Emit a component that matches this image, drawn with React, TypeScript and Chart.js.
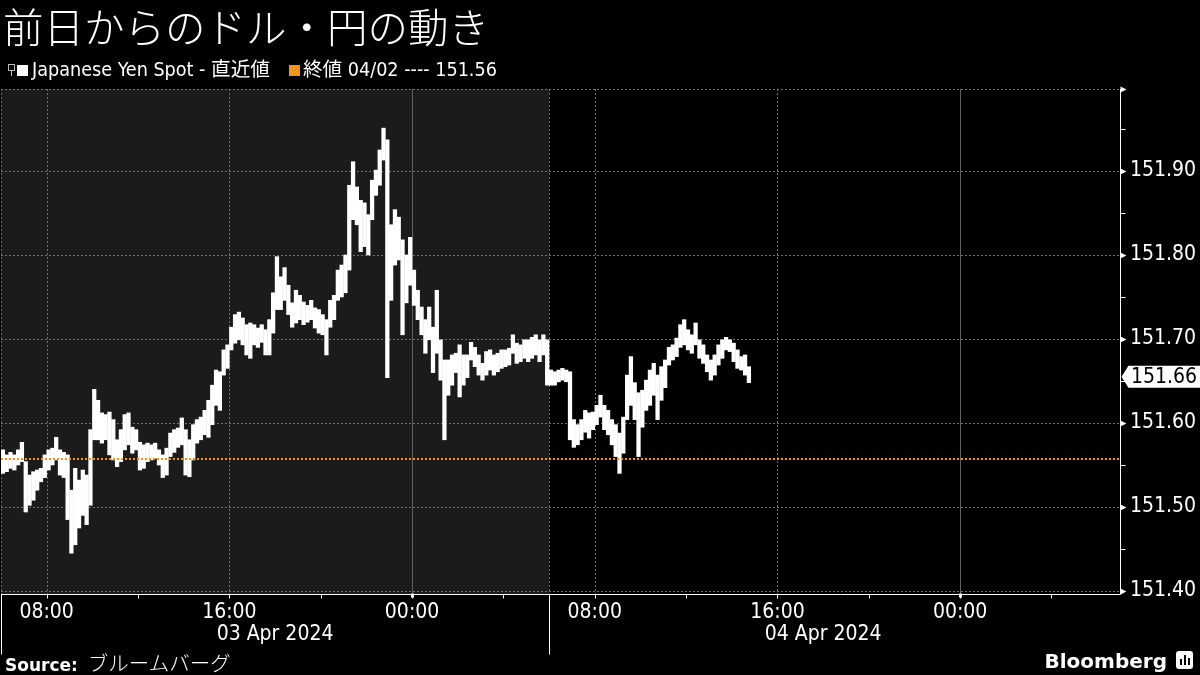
import React, { useEffect, useRef } from "react";
import { Chart, registerables } from "chart.js";

Chart.register(...registerables);

// ---------- texts ----------
const TITLE = "前日からのドル・円の動き";
const SERIES_LABEL = "Japanese Yen Spot - 直近値";
const PREV_CLOSE_LABEL = "終値 04/02 ---- 151.56";
const SOURCE_PREFIX = "Source:";
const SOURCE_NAME = "ブルームバーグ";
const BRAND = "Bloomberg";

// ---------- data: 10-minute high/low bars from 06:00 03 Apr 2024 ----------
const BAR_MINUTES = 10;
const HIGHS = [
  151.568, 151.562, 151.565, 151.562, 151.568, 151.577,
  151.554, 151.538, 151.542, 151.544, 151.546, 151.562,
  151.568, 151.570, 151.583, 151.568, 151.565, 151.562,
  151.520, 151.546, 151.532, 151.544, 151.538, 151.592,
  151.640, 151.627, 151.612, 151.610, 151.613, 151.604,
  151.580, 151.592, 151.610, 151.612, 151.595, 151.592,
  151.577, 151.574, 151.576, 151.574, 151.576, 151.568,
  151.562, 151.570, 151.588, 151.592, 151.594, 151.606,
  151.592, 151.580, 151.598, 151.604, 151.607, 151.615,
  151.627, 151.645, 151.663, 151.661, 151.687, 151.693,
  151.714, 151.729, 151.732, 151.725, 151.717, 151.719,
  151.717, 151.713, 151.717, 151.711, 151.723, 151.755,
  151.798, 151.774, 151.785, 151.764, 151.743, 151.758,
  151.752, 151.744, 151.740, 151.746, 151.737, 151.735,
  151.729, 151.723, 151.746, 151.752, 151.782, 151.788,
  151.800, 151.883, 151.911, 151.881, 151.865, 151.862,
  151.848, 151.889, 151.901, 151.925, 151.951, 151.937,
  151.836, 151.854, 151.845, 151.818, 151.800, 151.821,
  151.782, 151.758, 151.738, 151.723, 151.738, 151.714,
  151.758, 151.699, 151.675, 151.675, 151.681, 151.683,
  151.693, 151.681, 151.681, 151.696, 151.690, 151.681,
  151.671, 151.685, 151.687, 151.681, 151.683, 151.687,
  151.687, 151.689, 151.705, 151.695, 151.693, 151.699,
  151.699, 151.702, 151.705, 151.699, 151.705, 151.699,
  151.663, 151.661, 151.663, 151.665, 151.663, 151.661,
  151.604, 151.598, 151.604, 151.615, 151.612, 151.613,
  151.621, 151.633, 151.621, 151.615, 151.604, 151.598,
  151.588, 151.607, 151.657, 151.679, 151.648, 151.636,
  151.639, 151.651, 151.663, 151.671, 151.657, 151.667,
  151.675, 151.690, 151.693, 151.701, 151.717, 151.723,
  151.711, 151.705, 151.719, 151.699, 151.693, 151.681,
  151.675, 151.681, 151.693, 151.699, 151.702, 151.699,
  151.695, 151.687, 151.679, 151.681, 151.667,
];
const LOWS = [
  151.540, 151.542, 151.546, 151.544, 151.550, 151.554,
  151.494, 151.502, 151.508, 151.520, 151.530, 151.535,
  151.544, 151.550, 151.556, 151.538, 151.535, 151.485,
  151.445, 151.455, 151.475, 151.490, 151.479, 151.502,
  151.580, 151.580, 151.576, 151.580, 151.562, 151.556,
  151.548, 151.554, 151.568, 151.574, 151.564, 151.568,
  151.544, 151.546, 151.554, 151.556, 151.558, 151.550,
  151.535, 151.538, 151.560, 151.565, 151.571, 151.574,
  151.538, 151.536, 151.556, 151.576, 151.580, 151.586,
  151.583, 151.598, 151.621, 151.615, 151.657, 151.665,
  151.687, 151.695, 151.699, 151.693, 151.681, 151.677,
  151.693, 151.690, 151.696, 151.681, 151.681, 151.707,
  151.735, 151.735, 151.746, 151.729, 151.714, 151.719,
  151.723, 151.717, 151.720, 151.723, 151.713, 151.707,
  151.705, 151.681, 151.714, 151.723, 151.746, 151.750,
  151.755, 151.782, 151.842, 151.836, 151.804, 151.810,
  151.800, 151.842, 151.871, 151.883, 151.913, 151.654,
  151.746, 151.788, 151.794, 151.705, 151.743, 151.764,
  151.740, 151.723, 151.705, 151.683, 151.699, 151.660,
  151.683, 151.651, 151.580, 151.633, 151.645, 151.660,
  151.631, 151.645, 151.654, 151.675, 151.667, 151.657,
  151.651, 151.657, 151.663, 151.657, 151.661, 151.665,
  151.667, 151.669, 151.683, 151.671, 151.673, 151.677,
  151.673, 151.677, 151.681, 151.673, 151.681, 151.645,
  151.645, 151.645, 151.649, 151.651, 151.649, 151.580,
  151.571, 151.574, 151.580, 151.589, 151.582, 151.592,
  151.598, 151.607, 151.592, 151.586, 151.574, 151.560,
  151.540, 151.564, 151.604, 151.621, 151.604, 151.560,
  151.595, 151.615, 151.621, 151.633, 151.604, 151.627,
  151.642, 151.669, 151.675, 151.679, 151.690, 151.693,
  151.687, 151.683, 151.693, 151.677, 151.671, 151.661,
  151.651, 151.657, 151.669, 151.677, 151.687, 151.685,
  151.673, 151.665, 151.663, 151.657, 151.648,
];
const PREV_CLOSE = 151.557;
const LAST_PRICE = 151.655;
const LAST_LABEL = "151.66";

// ---------- axes (x in minutes after 06:00 03 Apr 2024) ----------
const X_MIN = 0;
const X_MAX = 2940;
const Y_MIN = 151.3964;
const Y_MAX = 151.9976;
const Y_TICKS = [151.4, 151.5, 151.6, 151.7, 151.8, 151.9];
const Y_MINOR_TICKS = [151.45, 151.55, 151.65, 151.75, 151.85, 151.95];
const X_LABEL_TICKS = [120, 600, 1080, 1560, 2040, 2520];
const X_LABELS = ["08:00", "16:00", "00:00", "08:00", "16:00", "00:00"];
const X_MINOR_TICKS = [360, 840, 1320, 1800, 2280, 2760];
const DAY_BOUNDS = [1080, 2520];
const SESSION_BOUNDS = [0, 1440];
const SHADE_RANGE = [0, 1440];
const DATE_LABELS = ["03 Apr 2024", "04 Apr 2024"];
const DATE_LABEL_TIMES = [720, 2160];

const AXIS_FONT = '"DejaVu Sans Condensed", "DejaVu Sans", sans-serif';
const CJK_FONT = '"Noto Sans CJK JP", "Noto Sans", sans-serif';
const ORANGE = "#f0961e";

const decor = {
  id: "decor",
  beforeDatasetsDraw(chart: any) {
    const { ctx, chartArea: a, scales } = chart;
    const xs = scales.x;
    const ys = scales.y;
    ctx.save();
    const s0 = xs.getPixelForValue(SHADE_RANGE[0]);
    const s1 = xs.getPixelForValue(SHADE_RANGE[1]);
    ctx.fillStyle = "#1b1b1b";
    ctx.fillRect(s0, a.top, s1 - s0, a.bottom - a.top);

    ctx.lineWidth = 1;
    ctx.strokeStyle = "#707070";
    ctx.setLineDash([2, 2]);
    const hl = [...Y_TICKS, Y_MAX];
    for (const v of hl) {
      const y = Math.round(ys.getPixelForValue(v)) + 0.5;
      ctx.beginPath();
      ctx.moveTo(a.left, y);
      ctx.lineTo(a.right, y);
      ctx.stroke();
    }
    const vd = [...X_LABEL_TICKS.filter((t) => !DAY_BOUNDS.includes(t)), ...SESSION_BOUNDS];
    for (const t of vd) {
      const x = Math.round(xs.getPixelForValue(t)) + 0.5;
      ctx.beginPath();
      ctx.moveTo(x, a.top);
      ctx.lineTo(x, a.bottom);
      ctx.stroke();
    }
    ctx.setLineDash([]);
    ctx.strokeStyle = "#626262";
    for (const t of DAY_BOUNDS) {
      const x = Math.round(xs.getPixelForValue(t)) + 0.5;
      ctx.beginPath();
      ctx.moveTo(x, a.top);
      ctx.lineTo(x, a.bottom);
      ctx.stroke();
    }
    ctx.restore();
  },
  afterDraw(chart: any) {
    const { ctx, chartArea: a, scales } = chart;
    const xs = scales.x;
    const ys = scales.y;
    ctx.save();
    ctx.strokeStyle = "#ffffff";
    ctx.fillStyle = "#ffffff";
    ctx.lineWidth = 1;
    const r = Math.round(a.right) + 0.5;
    const b = Math.round(a.bottom) + 0.5;
    ctx.beginPath();
    ctx.moveTo(r, a.top);
    ctx.lineTo(r, b);
    ctx.moveTo(a.left, b);
    ctx.lineTo(r, b);
    ctx.stroke();
    const tri = (y: number) => {
      ctx.beginPath();
      ctx.moveTo(r, y - 3);
      ctx.lineTo(r + 6, y);
      ctx.lineTo(r, y + 3);
      ctx.closePath();
      ctx.fill();
    };
    for (const v of Y_TICKS) tri(Math.round(ys.getPixelForValue(v)) + 0.5);
    tri(Math.round(a.top) + 0.5);
    for (const v of Y_MINOR_TICKS) {
      const y = Math.round(ys.getPixelForValue(v)) + 0.5;
      ctx.beginPath();
      ctx.moveTo(r, y);
      ctx.lineTo(r + 5, y);
      ctx.stroke();
    }
    for (const t of [...X_LABEL_TICKS, ...X_MINOR_TICKS]) {
      const x = Math.round(xs.getPixelForValue(t)) + 0.5;
      ctx.beginPath();
      ctx.moveTo(x, b);
      ctx.lineTo(x, b + 4);
      ctx.stroke();
    }
    for (const t of DAY_BOUNDS) {
      const x = Math.round(xs.getPixelForValue(t));
      ctx.fillRect(x - 1, b - 1, 3, 4);
    }
    for (const t of SESSION_BOUNDS) {
      const x = Math.round(xs.getPixelForValue(t)) + 0.5;
      ctx.beginPath();
      ctx.moveTo(x, b);
      ctx.lineTo(x, b + 60);
      ctx.stroke();
    }
    ctx.font = `21px ${AXIS_FONT}`;
    ctx.textAlign = "center";
    ctx.textBaseline = "middle";
    DATE_LABELS.forEach((lab, i) => {
      ctx.fillText(lab, xs.getPixelForValue(DATE_LABEL_TIMES[i]), 635);
    });
    const ly = ys.getPixelForValue(LAST_PRICE);
    ctx.beginPath();
    ctx.moveTo(r + 1, ly);
    ctx.lineTo(r + 8, ly - 11);
    ctx.lineTo(1200, ly - 11);
    ctx.lineTo(1200, ly + 11);
    ctx.lineTo(r + 8, ly + 11);
    ctx.closePath();
    ctx.fill();
    ctx.fillStyle = "#000000";
    ctx.textAlign = "left";
    ctx.fillText(LAST_LABEL, 1131, ly + 1);
    ctx.restore();
  },
};

export default function App() {
  const canvasRef = useRef<HTMLCanvasElement | null>(null);

  useEffect(() => {
    const canvas = canvasRef.current;
    if (!canvas) return;
    const bars = HIGHS.map((h, i) => ({ x: i * BAR_MINUTES + BAR_MINUTES / 2, y: [LOWS[i], h] }));
    const chart = new Chart(canvas, {
      type: "bar",
      data: {
        datasets: [
          {
            type: "line",
            label: PREV_CLOSE_LABEL,
            data: [
              { x: X_MIN, y: PREV_CLOSE },
              { x: X_MAX, y: PREV_CLOSE },
            ],
            borderColor: ORANGE,
            borderWidth: 2,
            borderDash: [2, 2],
            pointRadius: 0,
            order: 0,
          } as any,
          {
            type: "bar",
            label: SERIES_LABEL,
            data: bars as any,
            backgroundColor: "#ffffff",
            borderWidth: 0,
            barThickness: 3.6,
            grouped: false,
            order: 1,
          } as any,
        ],
      },
      options: {
        responsive: false,
        animation: false,
        devicePixelRatio: 1,
        layout: { padding: { top: 89, left: 1, right: 0, bottom: 0 } },
        plugins: { legend: { display: false }, tooltip: { enabled: false } },
        scales: {
          x: {
            type: "linear",
            min: X_MIN,
            max: X_MAX,
            offset: false,
            grid: { display: false, drawTicks: false, offset: false },
            border: { display: false },
            afterBuildTicks: (s: any) => {
              s.ticks = X_LABEL_TICKS.map((v) => ({ value: v }));
            },
            afterFit: (s: any) => {
              s.height = 81;
            },
            ticks: {
              color: "#ffffff",
              font: { size: 21, family: AXIS_FONT },
              padding: 6,
              maxRotation: 0,
              autoSkip: false,
              callback: (v: any) => {
                const k = X_LABEL_TICKS.indexOf(Number(v));
                return k >= 0 ? X_LABELS[k] : "";
              },
            },
          },
          y: {
            type: "linear",
            position: "right",
            min: Y_MIN,
            max: Y_MAX,
            grid: { display: false, drawTicks: false },
            border: { display: false },
            afterBuildTicks: (s: any) => {
              s.ticks = Y_TICKS.map((v) => ({ value: v }));
            },
            afterFit: (s: any) => {
              s.width = 80;
            },
            ticks: {
              color: "#ffffff",
              font: { size: 21, family: AXIS_FONT },
              padding: 10,
              callback: (v: any) => Number(v).toFixed(2),
            },
          },
        },
      },
      plugins: [decor],
    });
    return () => chart.destroy();
  }, []);

  const legendText = {
    position: "absolute" as const,
    top: 59,
    fontFamily: `${AXIS_FONT}, ${CJK_FONT}`,
    fontSize: 19.6,
    lineHeight: "22px",
    whiteSpace: "nowrap" as const,
  };

  return (
    <div
      style={{
        position: "fixed",
        left: 0,
        top: 0,
        width: 1200,
        height: 675,
        background: "#000",
        overflow: "hidden",
        color: "#fff",
      }}
    >
      <canvas
        ref={canvasRef}
        width={1200}
        height={675}
        style={{ position: "absolute", left: 0, top: 0, width: 1200, height: 675 }}
      />
      <div
        style={{
          position: "absolute",
          left: 3,
          top: 0,
          fontFamily: CJK_FONT,
          fontSize: 40.5,
          fontWeight: 300,
          lineHeight: "52px",
          whiteSpace: "nowrap",
        }}
      >
        {TITLE}
      </div>
      <div style={{ position: "absolute", left: 8, top: 64, width: 5, height: 5, border: "1px solid #bbb" }} />
      <div style={{ position: "absolute", left: 11, top: 70, width: 1, height: 6, background: "#bbb" }} />
      <div style={{ position: "absolute", left: 17, top: 65, width: 11, height: 11, background: "#fff" }} />
      <div style={{ ...legendText, left: 32 }}>{SERIES_LABEL}</div>
      <div style={{ position: "absolute", left: 289, top: 65, width: 11, height: 11, background: ORANGE }} />
      <div style={{ ...legendText, left: 303 }}>{PREV_CLOSE_LABEL}</div>
      <div
        style={{
          position: "absolute",
          left: 5,
          top: 650,
          lineHeight: "24px",
          whiteSpace: "nowrap",
        }}
      >
        <span style={{ fontFamily: '"DejaVu Sans", sans-serif', fontWeight: 700, fontSize: 17 }}>{SOURCE_PREFIX}</span>
        <span style={{ fontFamily: CJK_FONT, fontWeight: 300, fontSize: 20.5, marginLeft: 10 }}>{SOURCE_NAME}</span>
      </div>
      <div
        style={{
          position: "absolute",
          right: 33,
          top: 649,
          fontFamily: '"DejaVu Sans", sans-serif',
          fontWeight: 700,
          fontSize: 20,
          lineHeight: "24px",
          whiteSpace: "nowrap",
        }}
      >
        {BRAND}
      </div>
      <div
        style={{
          position: "absolute",
          left: 1176,
          top: 651,
          width: 17,
          height: 18,
          background: "#fff",
          borderRadius: 3,
        }}
      >
        <div style={{ position: "absolute", left: 4, top: 8, width: 2, height: 6, background: "#000" }} />
        <div style={{ position: "absolute", left: 8, top: 4, width: 2, height: 10, background: "#000" }} />
        <div style={{ position: "absolute", left: 12, top: 7, width: 2, height: 7, background: "#000" }} />
      </div>
    </div>
  );
}
